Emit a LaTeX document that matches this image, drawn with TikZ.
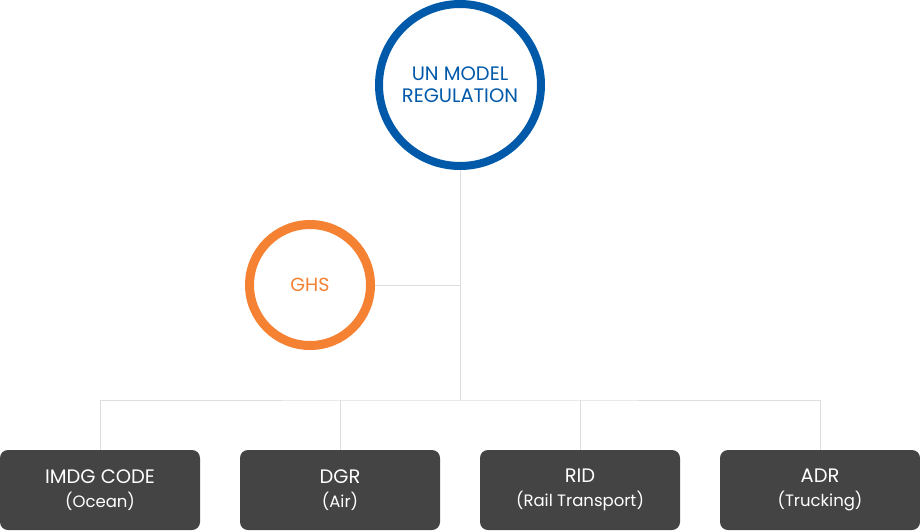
\documentclass[tikz,border=0pt]{standalone}
\usepackage{fontspec}
\setmainfont{Poppins}
\usetikzlibrary{calc,positioning}

\definecolor{unblue}{HTML}{0059A9}
\definecolor{ghsorange}{HTML}{F58133}
\definecolor{linkgray}{HTML}{DEDEDE}
\definecolor{boxgray}{HTML}{444444}

\newcommand{\modetitle}[1]{{\fontsize{19.5}{24}\selectfont #1}}
\newcommand{\modesub}[1]{{\fontsize{16.5}{24}\selectfont #1}}

\tikzset{
  ring/.style={circle, draw, fill=white, align=center, inner sep=0pt},
  modebox/.style={rectangle, fill=boxgray, rounded corners=8pt, text=white,
    minimum width=200pt, minimum height=80pt, align=center, inner sep=0pt,
    font=\fontsize{16.5}{24}\selectfont},
  link/.style={draw=linkgray, line width=1pt}
}

\begin{document}
\begin{tikzpicture}[x=1pt, y=-1pt]
\useasboundingbox (0,0) rectangle (920,530);

\node[ring, draw=unblue, line width=8pt, minimum size=162pt, text=unblue,
  font=\fontsize{19.5}{22}\selectfont] (un) at (460,85) {UN MODEL\\REGULATION};
\node[ring, draw=ghsorange, line width=9pt, minimum size=121pt, text=ghsorange,
  font=\fontsize{19}{22}\selectfont] (ghs) at (310,285) {GHS};

\node[modebox] (imdg) at (100,490) {\modetitle{IMDG CODE}\\\modesub{(Ocean)}};
\node[modebox] (dgr) at (340,490) {\modetitle{DGR}\\\modesub{(Air)}};
\node[modebox] (rid) at (580,490) {\modetitle{RID}\\\modesub{(Rail Transport)}};
\node[modebox] (adr) at (820,490) {\modetitle{ADR}\\\modesub{(Trucking)}};

\coordinate (bar) at (460,400);

% trunk and side branch
\draw[link] (un.south) -- (bar);
\draw[link] (ghs.east) -- (ghs.east -| un.south);

% rail over the four boxes
\draw[link] (imdg.north) |- (bar) -| (adr.north);
\draw[link] (dgr.north) -- (dgr.north |- bar);
\draw[link] (rid.north) -- (rid.north |- bar);
\end{tikzpicture}
\end{document}
